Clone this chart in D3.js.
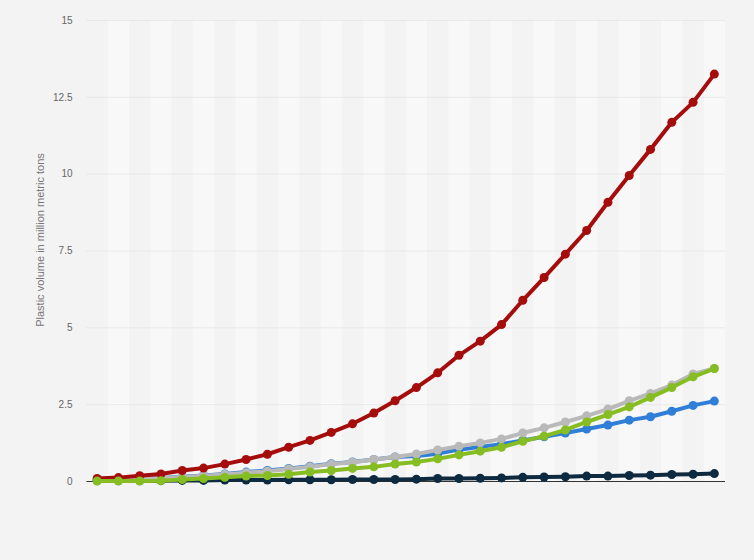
<!DOCTYPE html>
<html>
<head>
<meta charset="utf-8">
<script src="https://cdn.jsdelivr.net/npm/d3@7"></script>
<style>
  html, body { margin: 0; padding: 0; background: #f3f3f3; }
  svg { display: block; font-family: Arial, "Liberation Sans", sans-serif; }
</style>
</head>
<body>
<div id="chart"></div>
<script>
// 30 periods, no labels shown on the x axis
const periods = d3.range(30);

const yTicks = [0, 2.5, 5, 7.5, 10, 12.5, 15];

const blueValues = [0.03, 0.05, 0.07, 0.10, 0.14, 0.18, 0.23, 0.29, 0.34, 0.41, 0.48, 0.56, 0.62, 0.70, 0.78, 0.81, 0.89, 1.02, 1.11, 1.20, 1.32, 1.44, 1.56, 1.69, 1.82, 1.98, 2.09, 2.27, 2.46, 2.60];
const navyValues = [0.01, 0.01, 0.01, 0.01, 0.02, 0.02, 0.03, 0.03, 0.03, 0.04, 0.04, 0.04, 0.05, 0.05, 0.05, 0.06, 0.08, 0.08, 0.09, 0.10, 0.12, 0.13, 0.14, 0.16, 0.16, 0.18, 0.19, 0.21, 0.22, 0.24];
const grayValues = [0.03, 0.05, 0.07, 0.09, 0.13, 0.17, 0.21, 0.27, 0.32, 0.39, 0.46, 0.55, 0.61, 0.70, 0.78, 0.88, 1.01, 1.13, 1.24, 1.37, 1.56, 1.73, 1.92, 2.12, 2.34, 2.61, 2.85, 3.12, 3.48, 3.66];
const redValues = [0.08, 0.11, 0.17, 0.23, 0.34, 0.42, 0.55, 0.70, 0.87, 1.10, 1.32, 1.58, 1.86, 2.21, 2.61, 3.04, 3.52, 4.09, 4.55, 5.09, 5.88, 6.62, 7.38, 8.15, 9.07, 9.94, 10.79, 11.67, 12.32, 13.24];
const greenValues = [0.0, 0.0, 0.0, 0.01, 0.05, 0.08, 0.12, 0.16, 0.18, 0.22, 0.29, 0.34, 0.41, 0.46, 0.55, 0.62, 0.72, 0.85, 0.97, 1.10, 1.29, 1.46, 1.66, 1.92, 2.16, 2.41, 2.72, 3.04, 3.39, 3.66];

// drawing order: later series sit on top
const series = [
  {name: 'blue', values: blueValues, color: '#2f7ed8'},
  {name: 'navy', values: navyValues, color: '#0d2a40'},
  {name: 'gray', values: grayValues, color: '#b9b9b9'},
  {name: 'red', values: redValues, color: '#a50c0c'},
  {name: 'green', values: greenValues, color: '#86bd23'}
];

const width = 754;
const height = 560;
const margin = {top: 20, left: 86.5, bottom: 79, right: 29};

const x = d3.scaleBand()
    .domain(periods)
    .range([margin.left, width - margin.right]);

const y = d3.scaleLinear()
    .domain([0, 15])
    .range([height - margin.bottom, margin.top]);

const svg = d3.select('#chart').append('svg')
    .attr('width', width)
    .attr('height', height);

svg.append('rect')
    .attr('width', width).attr('height', height)
    .attr('fill', '#f3f3f3');

// alternating column bands
svg.append('g')
    .selectAll('rect').data(periods.filter(d => d % 2 === 1)).enter().append('rect')
    .attr('x', d => x(d))
    .attr('y', margin.top)
    .attr('width', x.bandwidth())
    .attr('height', y(0) - margin.top)
    .attr('fill', '#f8f8f8');

// y axis with dotted grid
const yAxis = g => g
    .attr('transform', `translate(${margin.left}, 0)`)
    .call(d3.axisLeft(y)
        .tickValues(yTicks)
        .tickFormat(d => d)
        .tickSize(-(width - margin.left - margin.right))
        .tickPadding(14))
    .call(g => g.select('.domain').remove())
    .call(g => g.selectAll('.tick line')
        .attr('stroke', '#dcdcdc')
        .attr('stroke-dasharray', '1,1'))
    .call(g => g.selectAll('.tick text')
        .attr('fill', '#666')
        .attr('font-size', 10));

svg.append('g').call(yAxis);

// baseline
svg.append('line')
    .attr('x1', margin.left).attr('x2', width - margin.right)
    .attr('y1', y(0) + 0.5).attr('y2', y(0) + 0.5)
    .attr('stroke', '#333')
    .attr('stroke-width', 1);

svg.append('text')
    .attr('transform', `translate(44, 240) rotate(-90)`)
    .attr('text-anchor', 'middle')
    .attr('fill', '#777')
    .attr('font-size', 11)
    .text('Plastic volume in million metric tons');

const cx = d => x(d) + x.bandwidth() / 2;

const line = d3.line()
    .x((v, i) => cx(periods[i]))
    .y(v => y(v));

for (const s of series) {
    const g = svg.append('g');
    g.append('path')
        .datum(s.values)
        .attr('fill', 'none')
        .attr('stroke', s.color)
        .attr('stroke-width', 4)
        .attr('stroke-linejoin', 'round')
        .attr('d', line);
    g.selectAll('circle').data(s.values).enter().append('circle')
        .attr('cx', (v, i) => cx(periods[i]))
        .attr('cy', v => y(v))
        .attr('r', 4.5)
        .attr('fill', s.color);
}
</script>
</body>
</html>
